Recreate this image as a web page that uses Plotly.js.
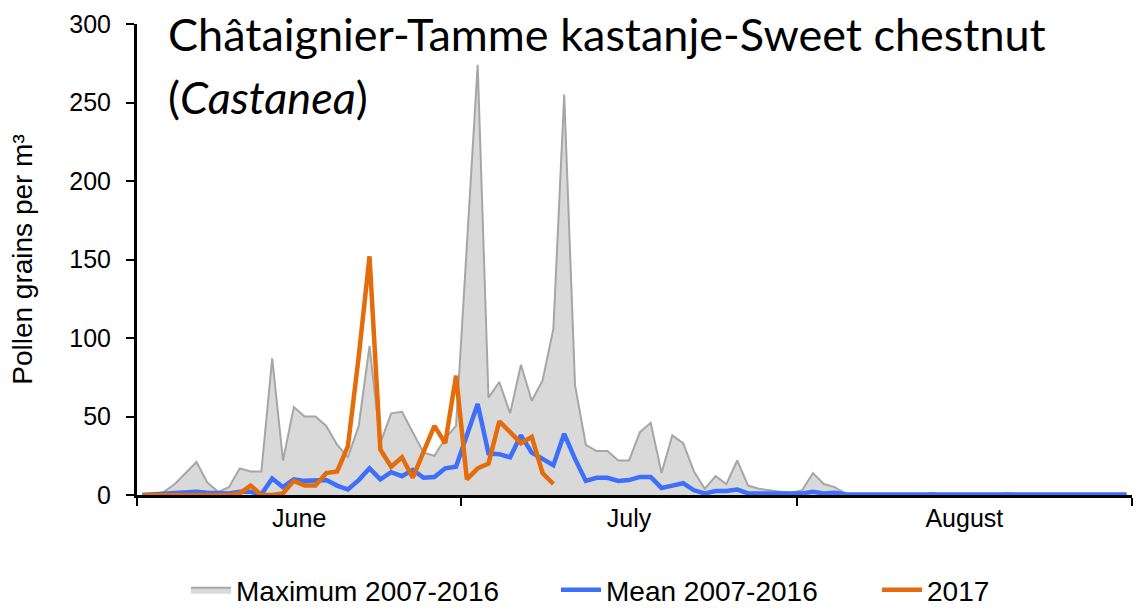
<!DOCTYPE html>
<html>
<head>
<meta charset="utf-8">
<script src="https://cdn.plot.ly/plotly-3.0.1.min.js"></script>
<style>
html,body{margin:0;padding:0;background:#fff;}
#chart{width:1139px;height:608px;}
</style>
</head>
<body>
<div id="chart"></div>
<script>
// Daily values, 1 June to 31 August (92 days)
const startDate = '2017-06-01';
const nDays = 92;
const seriesNames = ['Maximum 2007-2016', 'Mean 2007-2016', '2017'];

const maximum2007_2016 = [
  0, 0, 2, 7, 14, 21, 8, 2, 5, 17,
  15, 15, 87, 22, 56, 50, 50, 44, 32, 24,
  44, 95, 33, 52, 53, 40, 27, 25, 36, 44,
  160, 274, 62, 72, 52, 83, 60, 73, 106, 255,
  70, 32, 28, 28, 22, 22, 40, 46, 14, 38,
  33, 15, 4, 12, 7, 22, 6, 4, 3, 2,
  1.5, 3, 14, 7, 5, 1, 0.5, 0.5, 0.5, 0.5,
  0.5, 0.5, 0.5, 1.5, 0.5, 0.5, 0.5, 0.5, 0.5, 0.5,
  1.5, 0.5, 0.5, 0.5, 0.5, 0.5, 0.5, 0.5, 0.5, 0.5,
  0.5, 0.5
];
const mean2007_2016 = [
  0, 0.5, 1, 1.5, 2, 2, 1.5, 1, 1, 2,
  2, 0.5, 10.5, 5, 10, 9, 9.5, 9.5, 6, 3.5,
  9.5, 17, 10, 14.5, 12, 16, 11, 11.5, 17, 18,
  38, 58, 26.5, 26, 24, 38, 27, 23, 19, 39,
  23, 9, 11, 11, 9, 9.5, 11.5, 11.5, 4.5, 6,
  7.5, 3, 1, 2.5, 2.5, 3.5, 1, 1, 1, 1,
  1, 1, 2, 1, 1.5, 0.5, 0.3, 0.3, 0.3, 0.3,
  0.3, 0.3, 0.3, 0.3, 0.3, 0.3, 0.3, 0.3, 0.3, 0.3,
  0.3, 0.3, 0.3, 0.3, 0.3, 0.3, 0.3, 0.3, 0.3, 0.3,
  0.3, 0.3
];
const year2017 = [
  0, 0, 0, 0, 0, 0, 0, 0, 0, 1,
  6, 0, 0, 1, 9, 6, 6, 14, 15, 31,
  88, 152, 29, 18, 24, 11, 28, 44, 33, 76,
  10, 17, 20, 47, 40, 33, 37, 14, 7
];

// day positions (noon of each day)
function dayDates(start, n) {
  const out = [];
  const d0 = new Date(start + 'T12:00:00Z');
  for (let i = 0; i < n; i++) {
    const d = new Date(d0.getTime() + i * 86400000);
    out.push(d.toISOString().slice(0, 10) + ' 12:00');
  }
  return out;
}
const days = dayDates(startDate, nDays);

const traces = [
  {
    x: days, y: maximum2007_2016, name: seriesNames[0],
    type: 'scatter', mode: 'lines', fill: 'tozeroy',
    fillcolor: '#d9d9d9', line: {color: '#a6a6a6', width: 2},
    legend: 'legend'
  },
  {
    x: days, y: mean2007_2016, name: seriesNames[1],
    type: 'scatter', mode: 'lines',
    line: {color: '#3d6ffa', width: 4.5},
    legend: 'legend2'
  },
  {
    x: days.slice(0, year2017.length), y: year2017, name: seriesNames[2],
    type: 'scatter', mode: 'lines',
    line: {color: '#e46c0a', width: 4.5},
    legend: 'legend3'
  }
];

const legendBase = {
  orientation: 'h',
  xref: 'container', yref: 'container',
  y: 1 - 590 / 608, yanchor: 'middle', xanchor: 'left',
  font: {size: 28},
  itemwidth: 40,
  bgcolor: 'rgba(0,0,0,0)'
};

const layout = {
  width: 1139, height: 608,
  margin: {l: 137, r: 7, t: 24, b: 113},
  paper_bgcolor: '#ffffff', plot_bgcolor: '#ffffff',
  font: {family: '"Liberation Sans", Arial, sans-serif', color: '#000', size: 25},
  showlegend: true,
  title: {
    text: 'Châtaignier-Tamme kastanje-Sweet chestnut',
    font: {family: 'Lato, "Noto Sans", sans-serif', size: 45, color: '#000'},
    x: 168 / 1139, xanchor: 'left', xref: 'container',
    y: 1 - 19 / 608, yanchor: 'top', yref: 'container'
  },
  annotations: [{
    text: '(<i>Castanea</i>)',
    xref: 'paper', yref: 'paper',
    x: (166 - 137) / 995, y: 1 - (97 - 24) / 471,
    xanchor: 'left', yanchor: 'middle', showarrow: false,
    font: {family: 'Lato, "Noto Sans", sans-serif', size: 45, color: '#000'}
  }],
  xaxis: {
    type: 'date',
    range: ['2017-06-01', '2017-09-01'],
    tick0: '2017-06-01', dtick: 'M1',
    ticklabelmode: 'period',
    tickformat: '%B',
    ticks: 'outside', ticklen: 8, tickwidth: 2, tickcolor: '#000',
    showline: true, linecolor: '#000', linewidth: 3,
    showgrid: false, zeroline: false,
    tickfont: {size: 25},
    ticklabelstandoff: -9,
    automargin: false,
    fixedrange: true
  },
  yaxis: {
    range: [0, 300], dtick: 50, tick0: 0,
    ticks: 'outside', ticklen: 8, tickwidth: 2, tickcolor: '#000',
    showline: true, linecolor: '#000', linewidth: 3,
    showgrid: false, zeroline: false,
    tickfont: {size: 25},
    ticklabelstandoff: 10,
    title: {text: 'Pollen grains per m³', font: {size: 28}, standoff: 29},
    automargin: false,
    fixedrange: true
  },
  legend: Object.assign({}, legendBase, {x: 186 / 1139}),
  legend2: Object.assign({}, legendBase, {x: 556 / 1139}),
  legend3: Object.assign({}, legendBase, {x: 877 / 1139})
};

Plotly.newPlot('chart', traces, layout, {displayModeBar: false, staticPlot: true});
</script>
</body>
</html>
